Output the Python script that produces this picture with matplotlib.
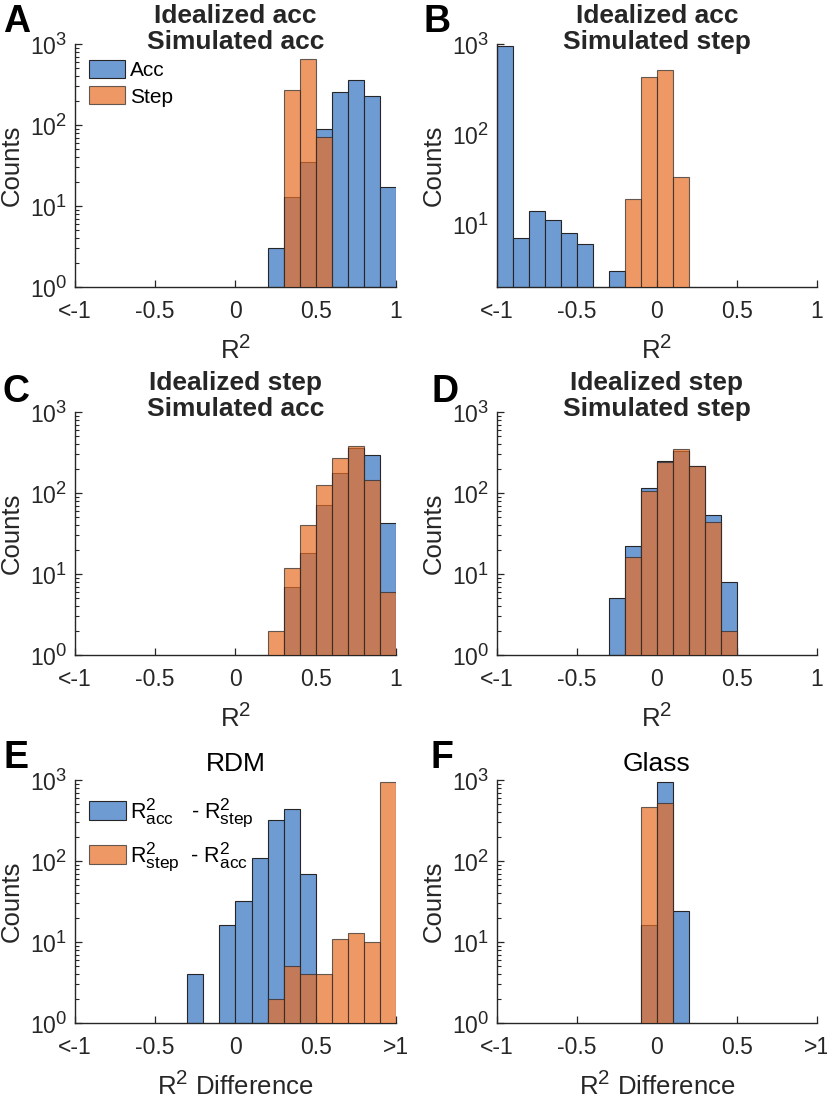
import numpy as np
import matplotlib
matplotlib.use('Agg')
import matplotlib.pyplot as plt
import matplotlib._mathtext as _mt

# MATLAB renders super/subscripts larger than matplotlib's default 0.7 shrink
_mt.SHRINK_FACTOR = 0.8

plt.rcParams['font.family'] = ['Liberation Sans', 'DejaVu Sans']
plt.rcParams['mathtext.fontset'] = 'custom'
plt.rcParams['mathtext.rm'] = 'Liberation Sans'
plt.rcParams['mathtext.it'] = 'Liberation Sans:italic'
plt.rcParams['mathtext.bf'] = 'Liberation Sans:bold'

# ---------------- data (counts per bin, 20 bins of width 0.1 from -1 to 1) ----------
bin_edges = np.round(np.linspace(-1, 1, 21), 2)

a_acc  = [0, 0, 0, 0, 0, 0, 0, 0, 0, 0, 0, 0, 3, 13, 35, 89, 255, 356, 228, 17]
a_step = [0, 0, 0, 0, 0, 0, 0, 0, 0, 0, 0, 0, 0, 268, 653, 71, 0, 0, 0, 0]

b_acc  = [942, 7, 14, 11, 8, 6, 0, 3, 0, 0, 0, 0, 0, 0, 0, 0, 0, 0, 0, 0]
b_step = [0, 0, 0, 0, 0, 0, 0, 0, 19, 430, 514, 33, 0, 0, 0, 0, 0, 0, 0, 0]

c_acc  = [0, 0, 0, 0, 0, 0, 0, 0, 0, 0, 0, 0, 0, 7, 18, 71, 179, 363, 298, 43]
c_step = [0, 0, 0, 0, 0, 0, 0, 0, 0, 0, 0, 0, 2, 12, 40, 124, 274, 381, 145, 6]

d_acc  = [0, 0, 0, 0, 0, 0, 0, 5, 22, 116, 248, 331, 216, 53, 8, 0, 0, 0, 0, 0]
d_step = [0, 0, 0, 0, 0, 0, 0, 0, 16, 107, 244, 353, 214, 44, 2, 0, 0, 0, 0, 0]

e_acc_minus_step = [0, 0, 0, 0, 0, 0, 0, 4, 0, 16, 32, 108, 318, 444, 69, 0, 0, 0, 0, 0]
e_step_minus_acc = [0, 0, 0, 0, 0, 0, 0, 0, 0, 0, 0, 0, 2, 5, 4, 4, 11, 13, 10, 946]

f_acc_minus_step = [0, 0, 0, 0, 0, 0, 0, 0, 0, 16, 946, 24, 0, 0, 0, 0, 0, 0, 0, 0]
f_step_minus_acc = [0, 0, 0, 0, 0, 0, 0, 0, 0, 461, 526, 0, 0, 0, 0, 0, 0, 0, 0, 0]

xticks = [-1, -0.5, 0, 0.5, 1]
xticklabels_r2 = ['<-1', '-0.5', '0', '0.5', '1']
xticklabels_diff = ['<-1', '-0.5', '0', '0.5', '>1']

titles = {
    'A': 'Idealized acc\nSimulated acc',
    'B': 'Idealized acc\nSimulated step',
    'C': 'Idealized step\nSimulated acc',
    'D': 'Idealized step\nSimulated step',
    'E': 'RDM',
    'F': 'Glass',
}

# ---------------- styling --------------------------------------------------------------
W, H = 828, 1098
BLUE = '#6F9BD3'
ORANGE = '#E76D24'
ORANGE_ALPHA = 0.7
EDGE = '#262626'
TXT = '#262626'

fig = plt.figure(figsize=(W / 100, H / 100), dpi=100)

# axes boxes in pixels: left, top, right, bottom
boxes = {
    'A': (75, 44, 396, 287),
    'B': (497, 44, 817, 287),
    'C': (75, 412, 396, 655),
    'D': (497, 412, 817, 655),
    'E': (75, 780, 396, 1023),
    'F': (497, 780, 817, 1023),
}

panels = {
    'A': (a_acc, a_step, (1, 1000), xticklabels_r2, 'R$^2$'),
    'B': (b_acc, b_step, (2, 1000), xticklabels_r2, 'R$^2$'),
    'C': (c_acc, c_step, (1, 1000), xticklabels_r2, 'R$^2$'),
    'D': (d_acc, d_step, (1, 1000), xticklabels_r2, 'R$^2$'),
    'E': (e_acc_minus_step, e_step_minus_acc, (1, 1000), xticklabels_diff, 'R$^2$ Difference'),
    'F': (f_acc_minus_step, f_step_minus_acc, (1, 1000), xticklabels_diff, 'R$^2$ Difference'),
}

letter_pos = {'A': (3, 32), 'B': (424, 32), 'C': (3, 402), 'D': (432, 402),
              'E': (3, 768), 'F': (431, 768)}

left_edges = bin_edges[:-1]
axes = {}
for key, (blue_counts, orange_counts, ylim, xtl, xlab) in panels.items():
    l, t, r, b = boxes[key]
    ax = fig.add_axes([l / W, 1 - b / H, (r - l) / W, (b - t) / H])
    axes[key] = ax
    bc = np.array(blue_counts, dtype=float)
    oc = np.array(orange_counts, dtype=float)
    mb = bc > 0
    mo = oc > 0
    hb = ax.bar(left_edges[mb], bc[mb], width=0.1, align='edge', color=BLUE,
                edgecolor=EDGE, linewidth=0.8, zorder=2)
    ho = ax.bar(left_edges[mo], oc[mo], width=0.1, align='edge', color=ORANGE,
                alpha=ORANGE_ALPHA, edgecolor=EDGE, linewidth=0.8, zorder=3)
    ax.set_yscale('log')
    ax.set_ylim(*ylim)
    ax.set_xlim(-1, 1)
    ax.set_xticks(xticks)
    ax.set_xticklabels(xtl)
    for s in ['top', 'right']:
        ax.spines[s].set_visible(False)
    for s in ['left', 'bottom']:
        ax.spines[s].set_color(EDGE)
        ax.spines[s].set_linewidth(1.0)
    ax.tick_params(axis='both', which='major', direction='in', length=5, width=0.9,
                   color=EDGE, labelsize=16.5, labelcolor=TXT)
    ax.tick_params(axis='y', which='minor', direction='in', length=3, width=0.8, color=EDGE)
    ax.tick_params(axis='x', which='major', pad=9)
    ax.tick_params(axis='y', which='major', pad=5.5)
    ax.set_ylabel('Counts', fontsize=18.5, color=TXT)
    ax.yaxis.label.set_va('center')
    ax.yaxis.set_label_coords(-0.197, 0.5)
    ax.set_xlabel(xlab, fontsize=18.5, color=TXT)
    ax.xaxis.label.set_va('baseline')
    ax.xaxis.set_label_coords(0.5, -72 / (b - t))

    cx = (l + r) / 2
    if key in ('A', 'B', 'C', 'D'):
        top = 4 if key in ('A', 'B') else 371
        fig.text(cx / W, 1 - top / H, titles[key], ha='center', va='top',
                 fontsize=19, fontweight='bold', color=TXT, linespacing=1.12)
    else:
        fig.text(cx / W, 1 - 771 / H, titles[key], ha='center', va='baseline',
                 fontsize=19, color='black')

    lx, ly = letter_pos[key]
    fig.text(lx / W, 1 - ly / H, key, ha='left', va='baseline', fontsize=27,
             fontweight='bold', color='black')

    if key == 'A':
        ax.legend([hb, ho], ['Acc', 'Step'], loc='upper left',
                  bbox_to_anchor=(89 / W, 1 - 60 / H), bbox_transform=fig.transFigure,
                  frameon=False, fontsize=15, handlelength=1.75, handleheight=0.95,
                  handletextpad=0.2, labelspacing=0.3, borderpad=0, borderaxespad=0)
    if key == 'E':
        ax.legend([hb, ho],
                  [r'R$^{2}_{\mathrm{acc}}$   - R$^{2}_{\mathrm{step}}$',
                   r'R$^{2}_{\mathrm{step}}$  - R$^{2}_{\mathrm{acc}}$'],
                  loc='upper left',
                  bbox_to_anchor=(89 / W, 1 - 796 / H), bbox_transform=fig.transFigure,
                  frameon=False, fontsize=15.5, handlelength=1.7, handleheight=1.0,
                  handletextpad=0.2, labelspacing=0.55, borderpad=0, borderaxespad=0)

fig.savefig('out.png', dpi=100)
